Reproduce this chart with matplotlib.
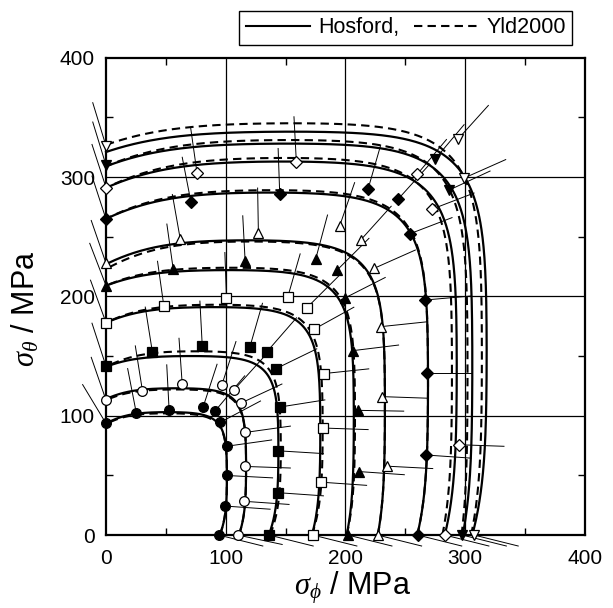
import numpy as np
import matplotlib
matplotlib.use("Agg")
import matplotlib.pyplot as plt

plt.rcParams["font.family"] = ["Liberation Sans", "DejaVu Sans"]
plt.rcParams["mathtext.fontset"] = "custom"
plt.rcParams["mathtext.it"] = "Liberation Serif:italic"
plt.rcParams["mathtext.rm"] = "Liberation Sans"

EXPO = 8
DASH = (0, (4, 2.5))

# yield loci (MPa): x intercept, y intercept, top of locus, right side of locus
hos_x = [95, 111, 136, 172, 201, 227, 260, 283, 298, 306]
hos_y = [93.5, 114, 141, 178, 209, 227, 265, 291, 309, 321]
hos_top = [103, 123, 150, 191, 222, 247, 287, 313, 328, 338]
hos_right = [101, 117, 144, 179, 207, 233, 269, 293, 306, 318]

yld_x = [95, 111, 137, 172, 201, 227, 260, 281, 297, 305]
yld_y = [93, 113, 141, 178, 209, 223, 265, 291, 309, 327]
yld_top = [102, 122, 154, 193, 224, 246, 289, 316, 331, 345]
yld_right = [101, 117, 146, 181, 208, 233, 269, 289, 302, 314]

# measured points (sigma_phi, sigma_theta) and direction of the strain-rate line (deg)
exp_phi = [
    [0, 25.3, 52.7, 81, 91.4, 95.5, 100.7, 101.2, 99.2, 94.1],
    [0, 30.4, 63.6, 96.8, 107, 112.5, 116.4, 116, 115, 110],
    [0, 38.7, 80.4, 120.2, 134.2, 141.9, 145.3, 143.6, 143.7, 136.2],
    [0, 48.3, 100.6, 151.7, 167.9, 173.8, 181.7, 181, 179.8, 172.7],
    [0, 56.1, 116.2, 175.2, 192.8, 199.4, 206.7, 210.7, 211.3, 202],
    [0, 62, 127.3, 195.3, 212.8, 223.7, 230, 230.8, 235, 226.8],
    [0, 70.9, 145.1, 219, 244.2, 253.6, 266.8, 268.1, 267.1, 260.3],
    [0, 76, 159, 260, 272, 294.5, 283],
    [0, 274.7, 286.4, 297.6],
    [0, 294, 299.2, 307.5],
]
exp_theta = [
    [93.5, 102.2, 104.7, 107, 104.3, 94.5, 74.4, 49.9, 24.3, 0],
    [113, 121, 127, 126, 121.7, 110.5, 86, 57.5, 28.3, 0],
    [141.4, 153.5, 158.1, 157.7, 153.4, 139.4, 107.3, 70.6, 35.5, 0],
    [177.9, 191.8, 198.8, 199.1, 190.6, 172.5, 135.3, 89.7, 44.3, 0],
    [209, 223, 229.6, 231.5, 221.8, 198.6, 154.6, 104.5, 53.2, 0],
    [227.7, 248, 252.8, 259.4, 247.3, 223.4, 174.7, 116, 57.7, 0],
    [264.7, 279.3, 286, 290.3, 281.7, 252.4, 197, 135.8, 67.1, 0],
    [291.2, 303.5, 312.6, 302.4, 273, 75.7, 0],
    [309.8, 314.8, 289, 0],
    [326, 331.8, 299.2, 0],
]
exp_dir = [
    [121, 101, 93, 72, 50, 28, 8, -3, -4, -14],
    [109, 99, 94, 72, 48, 25, 8, -2, -4, -12],
    [108, 99, 93, 74, 49, 26, 9, -3.5, -4, -14],
    [110, 98, 92, 74, 45, 29, 6, -2, -4, -14],
    [111, 98, 93, 75, 45, 27, 7, -1, -4, -14],
    [109, 100, 91, 71, 48, 24, 6, -2, -3, -14],
    [108, 101, 92, 74, 48, 21, 5, 0, -4, -14],
    [108, 98, 93, 50, 21, -2, -14],
    [107, 50, 25, -14],
    [107, 48, 24, -14],
]

marker_shape = ["o", "o", "s", "s", "^", "^", "D", "D", "v", "v"]
marker_fill = ["k", "w", "k", "w", "k", "w", "k", "w", "k", "w"]
LINE_LEN = 38


def locus(X, Y, T, R, a=EXPO, n=400):
    # Hosford-type function a|x|^a + b|y|^a + c|x-y|^a, different c above/below the diagonal
    k = 2.0 ** -a
    px_, py_, pt, pr = (Y / X) ** a, 1.0, (Y / T) ** a, (Y / R) ** a
    r3 = pt - k * py_
    r4 = pr - k * px_
    D = 2 * k - 1
    A = (r3 * k - (1 - k) * r4) / D
    B = (k * r4 - (1 - k) * r3) / D
    Ct = max(py_ - B, 0)
    Cr = max(px_ - A, 0)
    t = np.linspace(0, np.pi / 2, n)
    c, s = np.cos(t), np.sin(t)
    d = c - s
    f = A * c ** a + B * s ** a + np.where(d < 0, Ct, Cr) * np.abs(d) ** a
    r = Y * f ** (-1.0 / a)
    return r * c, r * s


fig = plt.figure(figsize=(6.13, 6.08), dpi=100)
ax = fig.add_axes([0.173, 0.12, 0.781, 0.785])

for v in (100, 200, 300):
    ax.axvline(v, color="k", lw=0.9, zorder=1)
    ax.axhline(v, color="k", lw=0.9, zorder=1)

for i in range(len(hos_x)):
    xs, ys = locus(hos_x[i], hos_y[i], hos_top[i], hos_right[i])
    ax.plot(xs, ys, color="k", lw=1.6, zorder=3, clip_on=False)
    xs, ys = locus(yld_x[i], yld_y[i], yld_top[i], yld_right[i])
    ax.plot(xs, ys, color="k", lw=1.5, ls=DASH, zorder=3, clip_on=False)

for i in range(len(exp_phi)):
    px = np.array(exp_phi[i], dtype=float)
    py = np.array(exp_theta[i], dtype=float)
    ang = np.radians(exp_dir[i])
    for x0, y0, a in zip(px, py, ang):
        ax.plot([x0, x0 + LINE_LEN * np.cos(a)], [y0, y0 + LINE_LEN * np.sin(a)],
                color="k", lw=0.7, zorder=2, clip_on=False)
    ax.plot(px, py, ls="none", marker=marker_shape[i], ms=7 if marker_shape[i] != "D" else 6,
            mfc=marker_fill[i], mec="k", mew=0.9, zorder=5, clip_on=False)

ax.set_xlim(0, 400)
ax.set_ylim(0, 400)
ax.set_xticks([0, 100, 200, 300, 400])
ax.set_yticks([0, 100, 200, 300, 400])
ax.set_xticks([50, 150, 250, 350], minor=True)
ax.set_yticks([50, 150, 250, 350], minor=True)
ax.tick_params(which="both", direction="in", top=True, right=True, labelsize=15, width=1)
ax.tick_params(axis="x", which="major", length=0, pad=10)
ax.tick_params(axis="y", which="major", length=0, pad=8)
ax.tick_params(which="minor", length=5)
for sp in ax.spines.values():
    sp.set_linewidth(1.6)

ax.set_xlabel(r"$\sigma_\phi$ / MPa", fontsize=22)
ax.set_ylabel(r"$\sigma_\theta$ / MPa", fontsize=22)
ax.xaxis.set_label_coords(0.515, -0.072)
ax.yaxis.set_label_coords(-0.135, 0.475)

h1, = ax.plot([], [], color="k", lw=1.5)
h2, = ax.plot([], [], color="k", lw=1.5, ls=DASH)
fig.legend([h1, h2], ["Hosford,", "Yld2000"], ncol=2, loc="center",
           bbox_to_anchor=(0.662, 0.954), frameon=True, fancybox=False,
           edgecolor="k", fontsize=15.5, handlelength=3.0, columnspacing=0.7,
           handletextpad=0.35, borderpad=0.3, framealpha=1)

fig.savefig("out.png", dpi=100)
